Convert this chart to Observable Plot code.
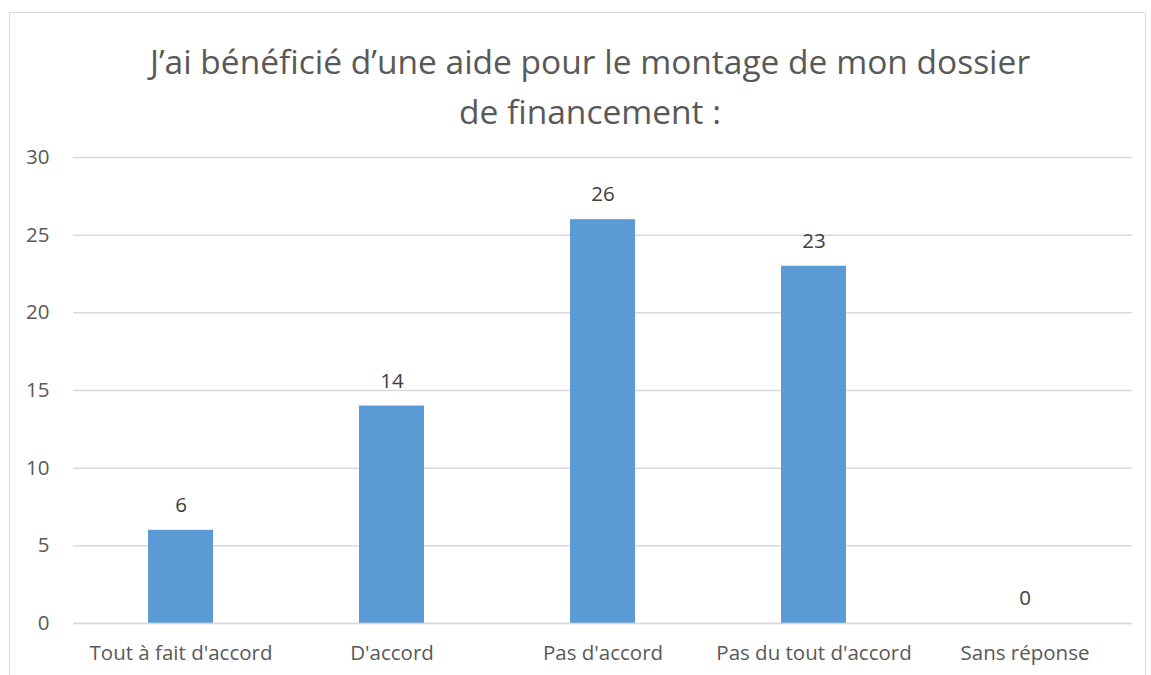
<!DOCTYPE html>
<html>
<head>
<meta charset="utf-8">
<script src="https://cdn.jsdelivr.net/npm/d3@7"></script>
<script src="https://cdn.jsdelivr.net/npm/@observablehq/plot@0.6"></script>
<style>
  html, body { margin: 0; padding: 0; background: #fff; overflow: hidden; }
  #frame { position: absolute; left: 9px; top: 12px; width: 1137px; height: 700px; border: 1px solid #d9d9d9; box-sizing: border-box; }
  #title { position: absolute; left: 0; top: 36px; width: 1180px; text-align: center; font-family: "Open Sans", sans-serif; font-size: 33.5px; line-height: 50px; color: #595959; }
  #chart { position: absolute; left: 0; top: 135px; }
</style>
</head>
<body>
<div id="frame"></div>
<div id="title">J’ai bénéficié d’une aide pour le montage de mon dossier<br>de financement :</div>
<div id="chart"></div>
<script>
const categories = ["Tout à fait d'accord", "D'accord", "Pas d'accord", "Pas du tout d'accord", "Sans réponse"];
const values = [6, 14, 26, 23, 0];
const yTicks = [0, 5, 10, 15, 20, 25, 30];

const data = categories.map((c, i) => ({category: c, value: values[i]}));

const chart = Plot.plot({
  width: 1151,
  height: 540,
  marginTop: 22,
  marginBottom: 52,
  marginLeft: 73,
  marginRight: 19,
  style: {fontFamily: "'Open Sans', sans-serif", color: "#595959", background: "transparent"},
  x: {domain: categories, label: null, paddingInner: 0.69, paddingOuter: 0.345},
  y: {domain: [0, 30], label: null},
  marks: [
    Plot.gridY(yTicks, {stroke: "#d9d9d9", strokeOpacity: 1, strokeWidth: 1.5}),
    Plot.barY(data, {x: "category", y: "value", fill: "#5b9bd5"}),
    Plot.ruleY([0], {stroke: "#d9d9d9", strokeWidth: 1.5}),
    Plot.axisX({tickSize: 0, tickPadding: 22, fontSize: 20.5, fill: "#595959", label: null}),
    Plot.axisY(yTicks, {tickSize: 0, tickPadding: 24, fontSize: 20.5, fill: "#595959", label: null}),
    Plot.text(data, {x: "category", y: "value", text: d => String(d.value), dy: -25, fill: "#404040", fontSize: 20.5})
  ]
});
document.getElementById("chart").appendChild(chart);
</script>
</body>
</html>
